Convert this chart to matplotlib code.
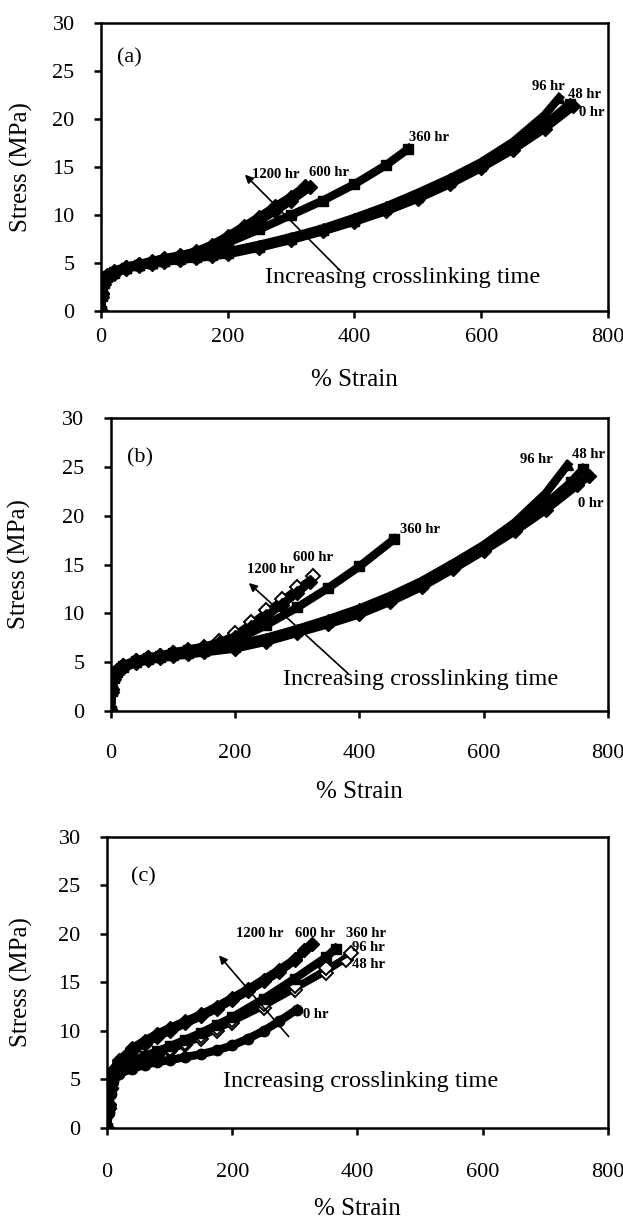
import matplotlib
matplotlib.use("Agg")
import matplotlib.pyplot as plt

plt.rcParams['font.family'] = ['Liberation Serif', 'DejaVu Serif']

# ---- panel (a) data: % strain / stress (MPa)
a0_x = [0, 2, 5, 10, 20, 40, 60, 80, 100, 125, 150, 175, 200, 250, 300, 350, 400, 450, 500, 550, 600, 650, 700, 745]
a0_y = [0, 1.5, 2.8, 3.4, 3.9, 4.4, 4.7, 4.9, 5.1, 5.3, 5.5, 5.7, 5.9, 6.6, 7.4, 8.3, 9.3, 10.4, 11.7, 13.2, 14.9, 16.8, 19.0, 21.3]
a48_x = [0, 2, 5, 10, 20, 40, 60, 80, 100, 125, 150, 175, 200, 250, 300, 350, 400, 450, 500, 550, 600, 650, 700, 740]
a48_y = [0, 1.6, 2.9, 3.5, 4.0, 4.5, 4.8, 5.0, 5.2, 5.4, 5.6, 5.8, 6.0, 6.7, 7.5, 8.4, 9.4, 10.6, 11.9, 13.4, 15.1, 17.1, 19.4, 21.6]
a96_x = [0, 2, 5, 10, 20, 40, 60, 80, 100, 125, 150, 175, 200, 250, 300, 350, 400, 450, 500, 550, 600, 650, 700, 723]
a96_y = [0, 1.7, 3.0, 3.6, 4.1, 4.5, 4.8, 5.0, 5.2, 5.5, 5.7, 5.9, 6.2, 6.9, 7.7, 8.6, 9.7, 10.9, 12.3, 13.8, 15.5, 17.6, 20.4, 22.2]
a360_x = [0, 2, 5, 10, 20, 40, 60, 80, 100, 125, 150, 175, 200, 250, 300, 350, 400, 450, 485]
a360_y = [0, 1.8, 3.1, 3.6, 4.1, 4.5, 4.8, 5.0, 5.3, 5.6, 6.0, 6.5, 7.1, 8.5, 10.0, 11.5, 13.2, 15.2, 16.9]
a600_x = [0, 2, 5, 10, 20, 40, 60, 80, 100, 125, 150, 175, 200, 225, 250, 275, 300, 330]
a600_y = [0, 1.8, 3.1, 3.6, 4.1, 4.6, 4.9, 5.1, 5.4, 5.7, 6.1, 6.7, 7.5, 8.4, 9.4, 10.4, 11.5, 12.9]
a1200_x = [0, 2, 5, 10, 20, 40, 60, 80, 100, 125, 150, 175, 200, 225, 250, 275, 300, 322]
a1200_y = [0, 1.9, 3.2, 3.7, 4.2, 4.6, 4.9, 5.2, 5.5, 5.8, 6.2, 6.9, 7.8, 8.8, 9.8, 10.9, 11.9, 13.0]

# ---- panel (b) data
b0_x = [0, 2, 5, 10, 20, 40, 60, 80, 100, 125, 150, 200, 250, 300, 350, 400, 450, 500, 550, 600, 650, 700, 750, 770]
b0_y = [0, 2.0, 3.3, 3.9, 4.4, 4.9, 5.2, 5.4, 5.6, 5.8, 6.0, 6.4, 7.1, 8.0, 8.9, 9.9, 11.2, 12.7, 14.5, 16.4, 18.4, 20.6, 23.1, 24.1]
b48_x = [0, 2, 5, 10, 20, 40, 60, 80, 100, 125, 150, 200, 250, 300, 350, 400, 450, 500, 550, 600, 650, 700, 740, 760]
b48_y = [0, 2.1, 3.4, 4.0, 4.5, 5.0, 5.3, 5.5, 5.7, 5.9, 6.1, 6.6, 7.3, 8.2, 9.1, 10.2, 11.5, 13.0, 14.8, 16.7, 18.8, 21.2, 23.4, 24.8]
b96_x = [0, 2, 5, 10, 20, 40, 60, 80, 100, 125, 150, 200, 250, 300, 350, 400, 450, 500, 550, 600, 650, 700, 735]
b96_y = [0, 2.2, 3.5, 4.1, 4.6, 5.1, 5.4, 5.6, 5.8, 6.0, 6.3, 6.8, 7.5, 8.4, 9.4, 10.5, 11.8, 13.3, 15.1, 17.0, 19.3, 22.3, 25.2]
b360_x = [0, 2, 5, 10, 20, 40, 60, 80, 100, 125, 150, 175, 200, 250, 300, 350, 400, 456]
b360_y = [0, 2.2, 3.5, 4.1, 4.6, 5.1, 5.4, 5.6, 5.9, 6.2, 6.5, 6.8, 7.2, 8.8, 10.6, 12.6, 14.8, 17.6]
b600_x = [0, 2, 5, 10, 20, 40, 60, 80, 100, 125, 150, 175, 200, 225, 250, 275, 300, 320]
b600_y = [0, 2.3, 3.6, 4.2, 4.7, 5.2, 5.5, 5.7, 6.0, 6.3, 6.6, 7.0, 7.6, 8.6, 9.7, 10.9, 12.1, 13.2]
b1200_x = [0, 2, 5, 10, 20, 40, 60, 80, 100, 125, 150, 175, 200, 225, 250, 275, 300, 325]
b1200_y = [0, 2.2, 3.5, 4.1, 4.6, 5.1, 5.4, 5.6, 5.9, 6.2, 6.6, 7.2, 8.0, 9.1, 10.3, 11.5, 12.7, 13.8]

# ---- panel (c) data
c0_x = [0, 3, 6, 10, 20, 40, 60, 80, 100, 125, 150, 175, 200, 225, 250, 275, 303]
c0_y = [0, 1.5, 3.5, 4.8, 5.6, 6.1, 6.5, 6.8, 7.0, 7.3, 7.6, 8.0, 8.5, 9.2, 10.0, 11.0, 12.2]
c48_x = [0, 3, 6, 10, 20, 40, 60, 80, 100, 125, 150, 175, 200, 250, 300, 350, 382]
c48_y = [0, 2.0, 4.0, 5.2, 5.9, 6.4, 6.9, 7.4, 7.9, 8.5, 9.2, 10.0, 10.8, 12.4, 14.2, 16.0, 17.3]
c96_x = [0, 3, 6, 10, 20, 40, 60, 80, 100, 125, 150, 175, 200, 250, 300, 350, 389]
c96_y = [0, 2.1, 4.1, 5.3, 6.0, 6.6, 7.1, 7.6, 8.1, 8.8, 9.5, 10.3, 11.1, 12.8, 14.6, 16.5, 18.0]
c360_x = [0, 3, 6, 10, 20, 40, 60, 80, 100, 125, 150, 175, 200, 250, 300, 350, 365]
c360_y = [0, 2.2, 4.3, 5.4, 6.2, 6.9, 7.4, 7.9, 8.4, 9.1, 9.8, 10.6, 11.4, 13.3, 15.4, 17.6, 18.5]
c600_x = [0, 3, 6, 10, 20, 40, 60, 80, 100, 125, 150, 175, 200, 225, 250, 275, 300, 327]
c600_y = [0, 2.4, 4.5, 5.8, 6.8, 7.9, 8.7, 9.4, 10.0, 10.8, 11.5, 12.3, 13.2, 14.1, 15.1, 16.1, 17.3, 19.0]
c1200_x = [0, 3, 6, 10, 20, 40, 60, 80, 100, 125, 150, 175, 200, 225, 250, 275, 300, 315]
c1200_y = [0, 2.5, 4.6, 6.0, 7.0, 8.2, 9.0, 9.7, 10.3, 11.0, 11.7, 12.5, 13.4, 14.3, 15.3, 16.3, 17.4, 18.3]

x_ticks = [0, 200, 400, 600, 800]
y_ticks = [0, 5, 10, 15, 20, 25, 30]
note = "Increasing crosslinking time"

# label text and where it sits (strain, stress)
a_labels = [("96 hr", 680, 23.4), ("48 hr", 737, 22.5), ("0 hr", 754, 20.7),
            ("360 hr", 486, 18.1), ("1200 hr", 238, 14.2), ("600 hr", 328, 14.4)]
b_labels = [("96 hr", 658, 25.8), ("48 hr", 742, 26.3), ("0 hr", 751, 21.2),
            ("360 hr", 466, 18.6), ("600 hr", 294, 15.7), ("1200 hr", 220, 14.5)]
c_labels = [("1200 hr", 206, 20.0), ("600 hr", 300, 20.0), ("360 hr", 382, 20.0),
            ("96 hr", 392, 18.6), ("48 hr", 392, 16.8), ("0 hr", 313, 11.7)]

# (x, y, marker, open?) - open ones go first so the filled bands sit on top
a_series = [(a0_x, a0_y, 'D', False), (a48_x, a48_y, 's', False), (a96_x, a96_y, '^', False),
            (a360_x, a360_y, 's', False), (a600_x, a600_y, 'D', False), (a1200_x, a1200_y, 'D', False)]
b_series = [(b1200_x, b1200_y, 'D', True), (b0_x, b0_y, 'D', False), (b48_x, b48_y, 's', False),
            (b96_x, b96_y, '^', False), (b360_x, b360_y, 's', False), (b600_x, b600_y, 'D', False)]
c_series = [(c48_x, c48_y, 'D', True), (c96_x, c96_y, 'D', True), (c0_x, c0_y, 'o', False),
            (c360_x, c360_y, 's', False), (c600_x, c600_y, 'D', False), (c1200_x, c1200_y, 'D', False)]

panels = [
    dict(rect=[0.1621, 0.7449, 0.8138, 0.2363], tag="(a)", tag_xy=(25, 26.4), series=a_series,
         labels=a_labels, arrow=((224, 14.4), (382, 3.9)), note_xy=(259, 3.5), xpad=7.5,
         ylab_x=-0.134, xlab_y=-0.20),
    dict(rect=[0.1777, 0.4167, 0.7982, 0.2404], tag="(b)", tag_xy=(27, 25.9), series=b_series,
         labels=b_labels, arrow=((219, 13.3), (386, 3.6)), note_xy=(277, 3.2), xpad=19,
         ylab_x=-0.16, xlab_y=-0.239),
    dict(rect=[0.1717, 0.0747, 0.8042, 0.2387], tag="(c)", tag_xy=(39, 25.9), series=c_series,
         labels=c_labels, arrow=((176, 18.0), (293, 9.2)), note_xy=(186, 4.8), xpad=20,
         ylab_x=-0.148, xlab_y=-0.24),
]

fig = plt.figure(figsize=(6.23, 12.19), dpi=100)

for p in panels:
    ax = fig.add_axes(p['rect'])
    for xs, ys, m, hollow in p['series']:
        if hollow:
            ax.plot(xs, ys, color='black', lw=3, marker=m, ms=7, mfc='white', mec='black', mew=1.4)
        else:
            ax.plot(xs, ys, color='black', lw=6, marker=m, ms=7.5, mfc='black', mec='black')
    ax.set_xlim(0, 800)
    ax.set_ylim(0, 30)
    ax.set_xticks(x_ticks)
    ax.set_yticks(y_ticks)
    ax.tick_params(direction='out', length=5, width=1.8, labelsize=16)
    ax.tick_params(axis='x', pad=p['xpad'])
    ax.tick_params(axis='y', pad=14)
    for s in ax.spines.values():
        s.set_linewidth(1.8)
    ax.set_xlabel("% Strain", fontsize=18)
    ax.set_ylabel("Stress (MPa)", fontsize=18)
    ax.yaxis.set_label_coords(p['ylab_x'], 0.5)
    ax.xaxis.set_label_coords(0.5, p['xlab_y'])
    ax.text(p['tag_xy'][0], p['tag_xy'][1], p['tag'], fontsize=16, ha='left', va='center')
    for txt, lx, ly in p['labels']:
        ax.text(lx, ly, txt, fontsize=10.5, fontweight='bold', ha='left', va='center')
    head, tail = p['arrow']
    ax.annotate('', xy=head, xytext=tail,
                arrowprops=dict(arrowstyle='-|>', color='black', lw=1.2, mutation_scale=12))
    ax.text(p['note_xy'][0], p['note_xy'][1], note, fontsize=17.5, ha='left', va='center')

fig.savefig("out.png", dpi=100)
